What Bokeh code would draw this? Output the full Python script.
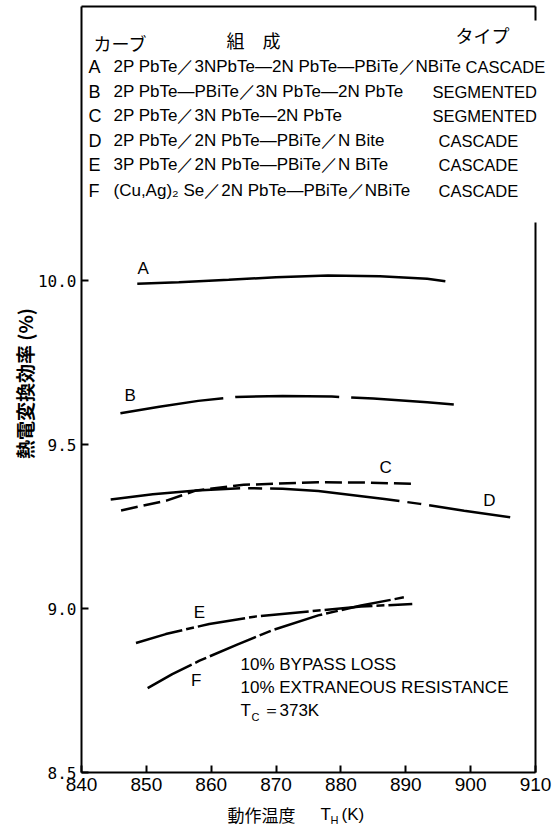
import math
from bokeh.plotting import figure
from bokeh.models import Label, FixedTicker, PrintfTickFormatter, LinearAxis, Range1d
from bokeh.core.properties import value
from bokeh.embed import file_html
from bokeh.resources import INLINE

# ---- data ----
A_T = [848.6, 855.0, 862.7, 870.0, 878.0, 886.0, 893.3, 896.1]
A_V = [9.990, 9.995, 10.002, 10.010, 10.015, 10.013, 10.005, 9.998]
B_T = [846.0, 852.0, 858.0, 863.8, 871.0, 878.6, 885.0, 893.3, 897.4]
B_V = [9.595, 9.615, 9.633, 9.645, 9.648, 9.646, 9.640, 9.629, 9.622]
C_T = [846.1, 853.1, 857.7, 865.0, 876.5, 884.0, 891.0]
C_V = [9.299, 9.329, 9.360, 9.377, 9.385, 9.384, 9.380]
D_T = [844.5, 851.0, 857.7, 865.0, 871.0, 876.5, 886.7, 892.2, 899.0, 906.1]
D_V = [9.332, 9.348, 9.360, 9.367, 9.365, 9.358, 9.334, 9.319, 9.298, 9.278]
E_T = [848.4, 853.0, 859.7, 867.0, 876.5, 883.1, 891.0]
E_V = [8.895, 8.922, 8.953, 8.976, 8.994, 9.006, 9.014]
F_T = [850.2, 854.0, 858.2, 864.0, 869.3, 876.5, 883.1, 889.7]
F_V = [8.757, 8.800, 8.841, 8.890, 8.933, 8.979, 9.009, 9.034]

CURVE_NAMES = ["A", "B", "C", "D", "E", "F"]
CURVE_LABEL_T = [849.5, 847.5, 886.9, 902.9, 858.2, 857.7]
CURVE_LABEL_V = [10.037, 9.650, 9.431, 9.329, 8.989, 8.780]

LEGEND_HEAD = ["カーブ", "組　成", "タイプ"]
LEGEND_COMP = [
    "2P PbTe／3NPbTe—2N PbTe—PBiTe／NBiTe",
    "2P PbTe—PBiTe／3N PbTe—2N PbTe",
    "2P PbTe／3N PbTe—2N PbTe",
    "2P PbTe／2N PbTe—PBiTe／N Bite",
    "3P PbTe／2N PbTe—PBiTe／N BiTe",
    "(Cu,Ag)₂ Se／2N PbTe—PBiTe／NBiTe",
]
LEGEND_TYPE = ["CASCADE", "SEGMENTED", "SEGMENTED", "CASCADE", "CASCADE", "CASCADE"]
NOTE_LINES = ["10% BYPASS LOSS", "10% EXTRANEOUS RESISTANCE"]
Y_TITLE = "熱電変換効率 (%)"
X_TITLE = "動作温度"

X_TICKS = [840, 850, 860, 870, 880, 890, 900, 910]
Y_TICKS = [8.5, 9.0, 9.5, 10.0]
X_MIN, X_MAX = 840, 910
Y_MIN = 8.5
GAP_LO, GAP_HI = 10.177, 10.793   # break in the right-hand border

# ---- layout (pixels) ----
W, H = 552, 827
PX_L, PX_R = 81, 535        # x = 840 / 910
PX_B, PX_10 = 772, 280      # y = 8.5 / 10.0
PX_TOP = 6                  # top border
KX = (PX_R - PX_L) / (X_MAX - X_MIN)
KY = (PX_B - PX_10) / (10.0 - Y_MIN)
Y_TOP = Y_MIN + (PX_B - PX_TOP) / KY

FONT = "Liberation Sans"
MONO = "DejaVu Sans Mono"
CJK = "Noto Sans CJK JP"

p = figure(width=W, height=H,
           x_range=Range1d(X_MIN - PX_L / KX, X_MAX + (W - PX_R) / KX),
           y_range=Range1d(Y_MIN - (H - PX_B) / KY, Y_MIN + PX_B / KY),
           output_backend="svg", toolbar_location=None,
           x_axis_location=None, y_axis_location=None,
           min_border=0, min_border_left=0, min_border_right=0,
           min_border_top=0, min_border_bottom=0)
p.background_fill_color = "white"
p.border_fill_color = "white"
p.outline_line_color = None
p.grid.visible = False


def style(ax):
    ax.axis_line_width = 2
    ax.axis_line_color = "black"
    ax.major_tick_in = 7
    ax.major_tick_out = 0
    ax.major_tick_line_width = 2
    ax.major_tick_line_color = "black"
    ax.minor_tick_line_color = None
    ax.major_label_text_color = "black"
    return ax


xaxis = style(LinearAxis(fixed_location=Y_MIN, bounds=(X_MIN, X_MAX),
                         ticker=FixedTicker(ticks=X_TICKS)))
xaxis.major_label_text_font = FONT
xaxis.major_label_text_font_size = "19px"
xaxis.major_label_standoff = 5
p.add_layout(xaxis, "below")

yaxis = style(LinearAxis(fixed_location=X_MIN, bounds=(Y_MIN, Y_TOP),
                         ticker=FixedTicker(ticks=Y_TICKS),
                         formatter=PrintfTickFormatter(format="%.1f")))
yaxis.major_label_text_font = MONO
yaxis.major_label_text_font_size = "16px"
yaxis.major_label_standoff = 5
p.add_layout(yaxis, "left")

# top and right borders (right one broken where the legend is)
for loc, bnds, side in [(Y_TOP, (X_MIN, X_MAX), "above"),
                        (X_MAX, (Y_MIN, GAP_LO), "right"),
                        (X_MAX, (GAP_HI, Y_TOP), "right")]:
    b = style(LinearAxis(fixed_location=loc, bounds=bnds, ticker=FixedTicker(ticks=[])))
    p.add_layout(b, side)

# curves
LW = 2.5
p.line(A_T, A_V, line_width=LW, color="black")
p.line(B_T, B_V, line_width=LW, color="black", line_dash="104 12")
p.line(C_T, C_V, line_width=LW, color="black", line_dash="17 6")
p.line(D_T, D_V, line_width=LW, color="black", line_dash="130 8 14 8")
p.line(E_T, E_V, line_width=LW, color="black", line_dash="48 4 8 4")
p.line(F_T, F_V, line_width=LW, color="black", line_dash="50 4 12 4")

p.text(x=CURVE_LABEL_T, y=CURVE_LABEL_V, text=CURVE_NAMES, text_font=value(FONT),
       text_font_size="17px", text_align="center", text_baseline="middle", color="black")


def lab(x, y, text, size="18px", font=FONT, align="left", angle=0.0, style="normal"):
    # x, y: pixel position from the picture's top-left corner
    p.add_layout(Label(x=x, y=H - y, x_units="screen", y_units="screen", text=text,
                       text_font=font, text_font_size=size, text_align=align,
                       text_font_style=style,
                       text_baseline="middle", text_color="black", angle=angle))


lab(93, 42, LEGEND_HEAD[0], "18px", CJK)
lab(226, 39, LEGEND_HEAD[1], "18px", CJK)
lab(455, 34, LEGEND_HEAD[2], "18px", CJK)
ROW_Y = [66, 91, 115, 140, 164, 190]
TYPE_X = [465, 432, 432, 438, 438, 438]
for i in range(6):
    lab(88, ROW_Y[i], CURVE_NAMES[i], "18px")
    lab(113, ROW_Y[i], LEGEND_COMP[i], "17px")
    lab(TYPE_X[i], ROW_Y[i], LEGEND_TYPE[i], "16.5px")

lab(240, 664, NOTE_LINES[0], "17px")
lab(240, 687, NOTE_LINES[1], "17px")
lab(240, 710, "T", "17px")
lab(251, 716, "C", "11px")
lab(262, 710, "＝373K", "17px")

# axis titles
lab(24, 383, Y_TITLE, "19px", CJK, "center", math.pi / 2, "bold")
lab(227, 814, X_TITLE, "17px", CJK)
lab(320, 814, "T", "17px")
lab(330, 819, "H", "11px")
lab(341, 814, "(K)", "17px")

open("out.html", "w").write(file_html(p, INLINE))
